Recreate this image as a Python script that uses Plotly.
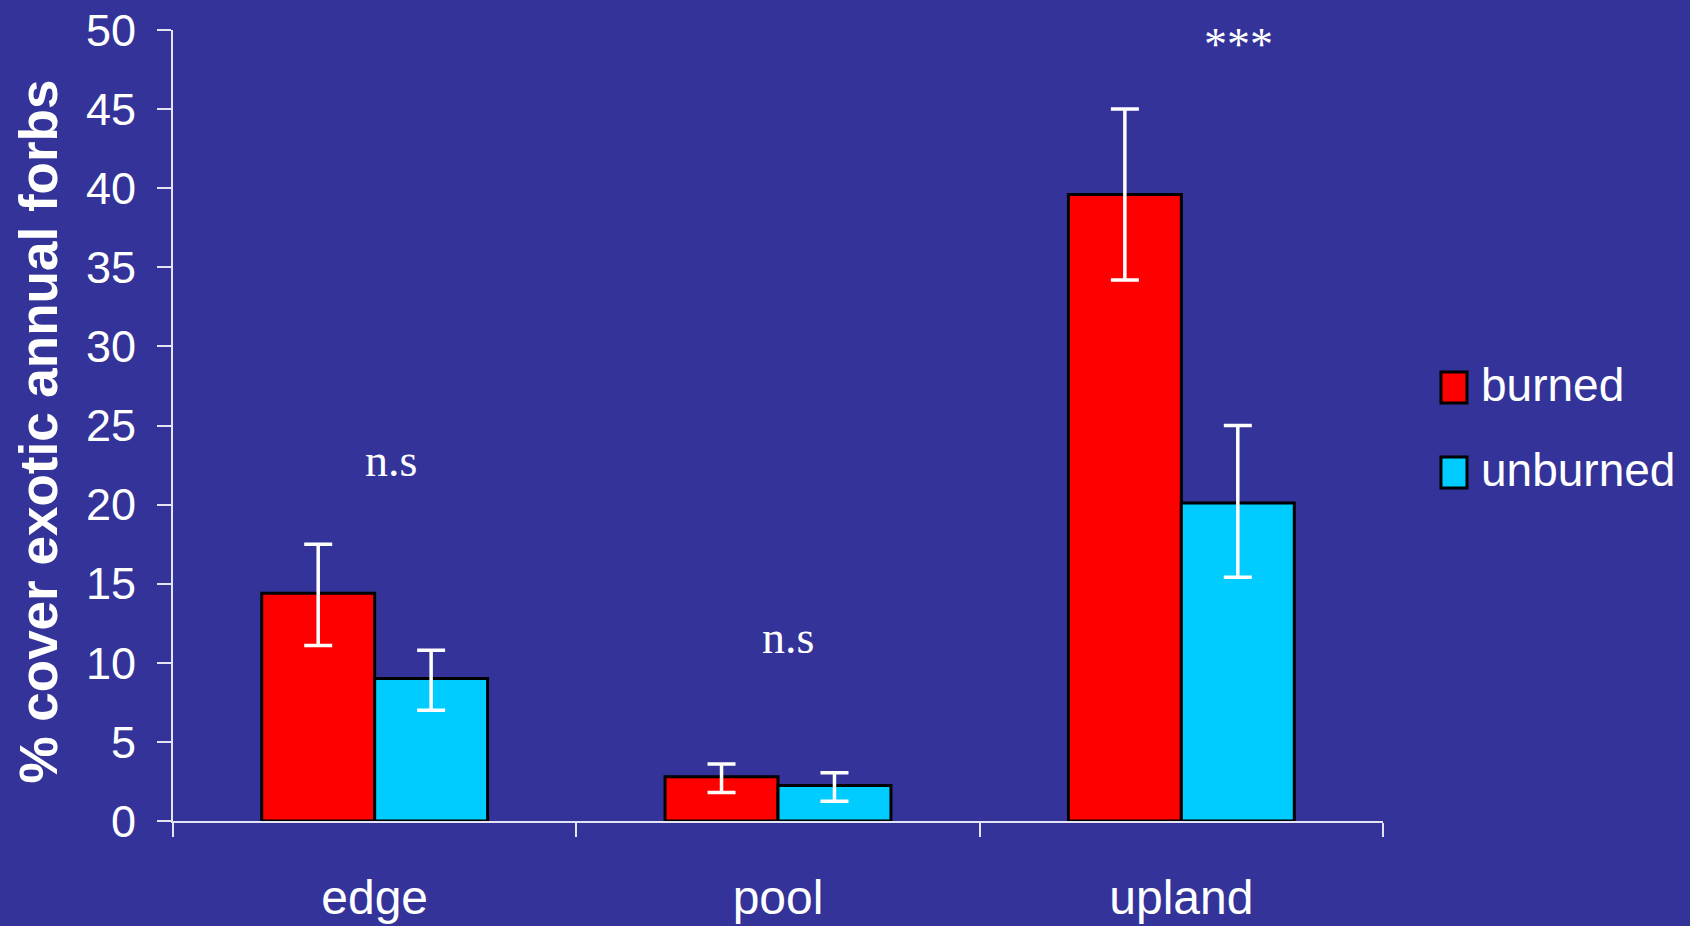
import plotly.graph_objects as go

# ---- data ----
categories = ["edge", "pool", "upland"]
burned = [14.4, 2.8, 39.6]
burned_err_plus = [3.1, 0.8, 5.4]
burned_err_minus = [3.3, 1.0, 5.4]
unburned = [9.0, 2.25, 20.1]
unburned_err_plus = [1.8, 0.8, 4.9]
unburned_err_minus = [2.0, 1.0, 4.7]
y_ticks = [0, 5, 10, 15, 20, 25, 30, 35, 40, 45, 50]
series_names = ["burned", "unburned"]
sig_labels = ["n.s", "n.s", "***"]
sig_y = [22.8, 11.6, 49.1]
sig_xshift = [16, 10, 57]

BG = "#333399"
RED = "#FF0000"
CYAN = "#00CCFF"
AXIS = "#E4E4F4"
SANS = "Liberation Sans, Arial, sans-serif"
SERIF = "Liberation Serif, Times New Roman, serif"

W, H = 1690, 926
L, R, T, B = 172.5, 307, 30, 105

fig = go.Figure()
for name, vals, ep, em, col in [
    (series_names[0], burned, burned_err_plus, burned_err_minus, RED),
    (series_names[1], unburned, unburned_err_plus, unburned_err_minus, CYAN),
]:
    fig.add_trace(go.Bar(
        x=categories, y=vals, name=name,
        marker=dict(color=col, line=dict(color="black", width=3)),
        error_y=dict(type="data", symmetric=False, array=ep, arrayminus=em,
                     color="white", thickness=3.5, width=14),
        showlegend=False,
    ))

for cat, lab, yv, xs in zip(categories, sig_labels, sig_y, sig_xshift):
    fig.add_annotation(x=cat, y=yv, text=lab, showarrow=False, xshift=xs,
                       xanchor="center", yanchor="middle",
                       font=dict(family=SERIF, size=46, color="white"))

pw = W - L - R
ph = H - T - B
def px_x(x):
    return (x - L) / pw
def px_y(y):
    return (H - B - y) / ph

# y-axis title
fig.add_annotation(xref="paper", yref="paper", x=px_x(38), y=px_y(432),
                   text="% cover exotic annual forbs", textangle=-90, showarrow=False,
                   xanchor="center", yanchor="middle",
                   font=dict(family=SANS, size=53, color="white", weight="bold"))

# custom legend
legend_items = [(series_names[0], RED, 372, 403, 385), (series_names[1], CYAN, 457, 488, 470)]
for name, col, y0, y1, ty in legend_items:
    fig.add_shape(type="rect", xref="paper", yref="paper",
                  x0=px_x(1441), x1=px_x(1467), y0=px_y(y1), y1=px_y(y0),
                  fillcolor=col, line=dict(color="black", width=3))
    fig.add_annotation(xref="paper", yref="paper", x=px_x(1479), y=px_y(ty),
                       text=name, showarrow=False, xanchor="left", yanchor="middle",
                       font=dict(family=SANS, size=46, color="white"))

fig.update_layout(
    width=W, height=H,
    margin=dict(l=L, r=R, t=T, b=B, pad=0, autoexpand=False),
    paper_bgcolor=BG, plot_bgcolor=BG,
    barmode="group", bargap=0.44, bargroupgap=0,
    showlegend=False,
)
fig.update_xaxes(
    type="category", showgrid=False, zeroline=False, automargin=False,
    showline=True, linecolor=AXIS, linewidth=2,
    ticks="outside", tickson="boundaries", ticklen=14, tickcolor=AXIS, tickwidth=1.5,
    tickfont=dict(family=SANS, size=48, color="white"),
    ticklabelstandoff=33,
)
fig.update_yaxes(
    range=[0, 50], tickvals=y_ticks, showgrid=False, zeroline=False, automargin=False,
    showline=True, linecolor=AXIS, linewidth=2,
    ticks="outside", ticklen=14, tickcolor=AXIS, tickwidth=1.5,
    tickfont=dict(family=SANS, size=45, color="white"),
    ticklabelstandoff=12,
)

fig.write_html("out.html", config={"displayModeBar": False})

# remove default page margin so the figure fills the window exactly
with open("out.html", "r", encoding="utf-8") as f:
    html = f.read()
html = html.replace("<body>", '<body style="margin:0;padding:0;overflow:hidden;">', 1)
html = html.replace("<head>", '<head><style>html,body{margin:0;padding:0;background:#333399;}</style>', 1)
with open("out.html", "w", encoding="utf-8") as f:
    f.write(html)
